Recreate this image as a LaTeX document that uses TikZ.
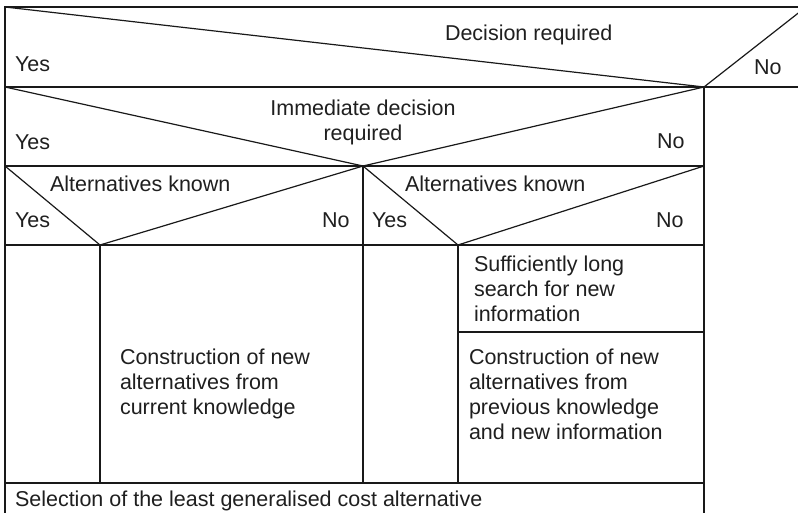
\documentclass[tikz,border=0pt]{standalone}
\usepackage{fontspec}
\setmainfont{Liberation Sans}
\begin{document}
\begin{tikzpicture}[x=1pt,y=-1pt,
  rule/.style={line width=1.2pt,draw=black!90},
  lbl/.style={anchor=base west,inner sep=0pt,outer sep=0pt,text=black!88,font=\fontsize{21.5}{25}\selectfont},
  clbl/.style={lbl,anchor=base}]
\useasboundingbox (0,0) rectangle (798,513);
\clip (0,0) rectangle (798,513);
\fill[white] (0,0) rectangle (798,513);

% frame corners and row levels
\coordinate (tl) at (5,7);
\coordinate (tr) at (798,7);
\coordinate (r1l) at (5,87);
\coordinate (r1r) at (798,87);
\coordinate (v1) at (704,87);
\coordinate (nocut) at (806,7);
\coordinate (r2l) at (5,166);
\coordinate (v2) at (363,166);
\coordinate (r2r) at (704,166);
\coordinate (r3l) at (5,245);
\coordinate (v3a) at (100,245);
\coordinate (v3b) at (458,245);
\coordinate (r3r) at (704,245);
\coordinate (mid) at (458,332);
\coordinate (midr) at (704,332);
\coordinate (r4l) at (5,483);
\coordinate (r4a) at (100,483);
\coordinate (r4m) at (363,483);
\coordinate (r4b) at (458,483);
\coordinate (r4r) at (704,483);
\coordinate (bl) at (5,520);
\coordinate (br) at (704,520);

% outer lines and horizontal rows
\draw[rule] (tr) -- (tl) -- (bl);
\draw[rule] (r1l) -- (r1r);
\draw[rule] (v1) -- (br);
\draw[rule] (r2l) -- (r2r);
\draw[rule] (r3l) -- (r3r);
\draw[rule] (r4l) -- (r4r);
\draw[rule] (mid) -- (midr);

% vertical separators
\draw[rule] (v2) -- (r4m);
\draw[rule] (v3a) -- (r4a);
\draw[rule] (v3b) -- (r4b);

% condition triangles
\draw[rule] (tl) -- (v1) -- (nocut);
\draw[rule] (r1l) -- (v2) -- (v1);
\draw[rule] (r2l) -- (v3a) -- (v2);
\draw[rule] (v2) -- (v3b) -- (r2r);

% texts
\node[lbl] (t1) at (445,41) {Decision required};
\node[lbl] (y1) at (15,72) {Yes};
\node[lbl] (n1) at (754,75) {No};

\node[clbl] (t2a) at (363,116) {Immediate decision};
\node[clbl] (t2b) at (363,141) {required};
\node[lbl] (y2) at (15,150) {Yes};
\node[lbl] (n2) at (657,149) {No};

\node[lbl] (t3l) at (50,192) {Alternatives known};
\node[lbl] (y3l) at (15,228) {Yes};
\node[lbl] (n3l) at (322,228) {No};
\node[lbl] (t3r) at (405,192) {Alternatives known};
\node[lbl] (y3r) at (372,228) {Yes};
\node[lbl] (n3r) at (656,228) {No};

\node[lbl] (s1) at (474,271) {Sufficiently long};
\node[lbl] (s2) at (474,296) {search for new};
\node[lbl] (s3) at (474,321) {information};

\node[lbl] (cl1) at (120,364) {Construction of new};
\node[lbl] (cl2) at (120,389) {alternatives from};
\node[lbl] (cl3) at (120,414) {current knowledge};

\node[lbl] (cr1) at (469,364) {Construction of new};
\node[lbl] (cr2) at (469,389) {alternatives from};
\node[lbl] (cr3) at (469,414) {previous knowledge};
\node[lbl] (cr4) at (469,439) {and new information};

\node[lbl] (sel) at (15,506) {Selection of the least generalised cost alternative};
\end{tikzpicture}
\end{document}
